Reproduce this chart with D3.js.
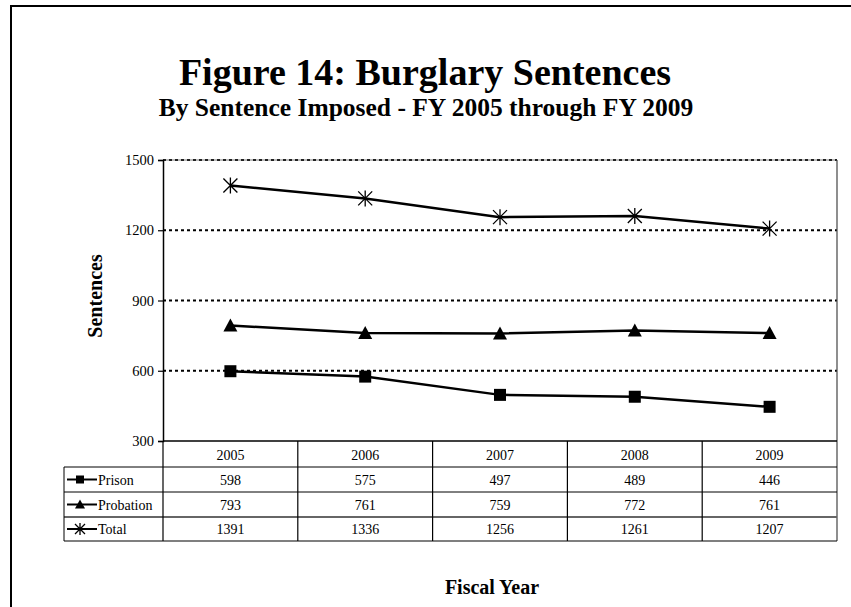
<!DOCTYPE html>
<html>
<head>
<meta charset="utf-8">
<script src="https://cdn.jsdelivr.net/npm/d3@7/dist/d3.min.js"></script>
<style>
  html, body { margin: 0; padding: 0; background: #fff; }
  svg { display: block; font-family: "Liberation Serif", "Times New Roman", serif; }
</style>
</head>
<body>
<svg id="chart" width="851" height="607"></svg>
<script>
// Fiscal years and sentence counts by type
const years = ["2005", "2006", "2007", "2008", "2009"];
const prison = [598, 575, 497, 489, 446];
const probation = [793, 761, 759, 772, 761];
const total = [1391, 1336, 1256, 1261, 1207];
const yTicks = [300, 600, 900, 1200, 1500];

const seriesList = [
  { name: "Prison", values: prison, marker: "square" },
  { name: "Probation", values: probation, marker: "triangle" },
  { name: "Total", values: total, marker: "star" }
];

const svg = d3.select("#chart");

// Outer frame
svg.append("rect")
  .attr("x", 11).attr("y", 6).attr("width", 900).attr("height", 700)
  .attr("fill", "none").attr("stroke", "#000").attr("stroke-width", 2);

// Titles
svg.append("text").attr("x", 425).attr("y", 85).attr("text-anchor", "middle")
  .attr("font-size", 38).attr("font-weight", "bold").text("Figure 14: Burglary Sentences");
svg.append("text").attr("x", 426).attr("y", 116).attr("text-anchor", "middle")
  .attr("font-size", 25.5).attr("font-weight", "bold").text("By Sentence Imposed - FY 2005 through FY 2009");

const plot = { left: 163, right: 837, top: 160, bottom: 441 };

const x = d3.scaleBand().domain(years).range([plot.left, plot.right]);
const y = d3.scaleLinear().domain([300, 1500]).range([plot.bottom, plot.top]);

// Gridlines
const grid = svg.append("g");
grid.selectAll("line.grid").data(yTicks.filter(t => t > 300)).join("line")
  .attr("x1", plot.left).attr("x2", plot.right)
  .attr("y1", d => y(d)).attr("y2", d => y(d))
  .attr("stroke", "#000").attr("stroke-width", 2).attr("stroke-dasharray", "3,3");
svg.append("line")
  .attr("x1", plot.left).attr("x2", plot.right).attr("y1", plot.top).attr("y2", plot.top)
  .attr("stroke", "#555").attr("stroke-width", 0.8);

// Y axis
const yAxis = d3.axisLeft(y).tickValues(yTicks).tickSize(5).tickPadding(4).tickFormat(d3.format("d"));
const yg = svg.append("g").attr("transform", `translate(${plot.left},0)`).call(yAxis);
yg.select(".domain").attr("stroke-width", 1.5);
yg.selectAll(".tick line").attr("stroke-width", 1.2);
yg.selectAll(".tick text").attr("font-size", 14.5).attr("font-family", "Liberation Serif, serif").attr("fill", "#000");

// Right edge of plot
svg.append("line").attr("x1", plot.right).attr("x2", plot.right)
  .attr("y1", plot.top).attr("y2", 541).attr("stroke", "#444").attr("stroke-width", 1.2);

// Y axis title
svg.append("text").attr("transform", "translate(102,296) rotate(-90)")
  .attr("text-anchor", "middle").attr("font-size", 20).attr("font-weight", "bold").text("Sentences");

// Marker shapes
function drawMarker(g, type, cx, cy, s) {
  if (type === "square") {
    g.append("rect").attr("x", cx - s / 2).attr("y", cy - s / 2).attr("width", s).attr("height", s).attr("fill", "#000");
  } else if (type === "triangle") {
    const h = s;
    g.append("path").attr("d", `M${cx},${cy - h / 2 - 1}L${cx + s / 2 + 1},${cy + h / 2}L${cx - s / 2 - 1},${cy + h / 2}Z`).attr("fill", "#000");
  } else {
    const r = s / 2 + 1;
    const p = [];
    p.push(`M${cx - r},${cy - r}L${cx + r},${cy + r}`);
    p.push(`M${cx - r},${cy + r}L${cx + r},${cy - r}`);
    p.push(`M${cx},${cy - r - 1}L${cx},${cy + r + 1}`);
    g.append("path").attr("d", p.join("")).attr("stroke", "#000").attr("stroke-width", 1.3).attr("fill", "none");
  }
}

const line = d3.line().x((d, i) => x(years[i]) + x.bandwidth() / 2).y(d => y(d));
seriesList.forEach(s => {
  const g = svg.append("g");
  g.append("path").datum(s.values).attr("d", line)
    .attr("fill", "none").attr("stroke", "#000").attr("stroke-width", 2.5);
  s.values.forEach((v, i) => drawMarker(g, s.marker, x(years[i]) + x.bandwidth() / 2, y(v), 12));
});

// X axis baseline
svg.append("line").attr("x1", plot.left).attr("x2", plot.right).attr("y1", plot.bottom).attr("y2", plot.bottom)
  .attr("stroke", "#000").attr("stroke-width", 1.5);

// Data table
const rowTop = [441, 467, 492, 517];
const rowBottom = 541;
const labelLeft = 64;
const table = svg.append("g");

// Horizontal rules
[467, 492].forEach(yy => table.append("line").attr("x1", labelLeft).attr("x2", plot.right)
  .attr("y1", yy).attr("y2", yy).attr("stroke", "#000").attr("stroke-width", 1));
table.append("line").attr("x1", labelLeft).attr("x2", plot.right).attr("y1", 517).attr("y2", 517)
  .attr("stroke", "#666").attr("stroke-width", 2);
table.append("line").attr("x1", labelLeft).attr("x2", plot.right).attr("y1", rowBottom).attr("y2", rowBottom)
  .attr("stroke", "#000").attr("stroke-width", 1.2);

// Vertical rules
years.forEach(yr => table.append("line").attr("x1", x(yr)).attr("x2", x(yr))
  .attr("y1", plot.bottom).attr("y2", rowBottom).attr("stroke", "#000").attr("stroke-width", 1.2));
table.append("line").attr("x1", labelLeft).attr("x2", labelLeft).attr("y1", 467).attr("y2", rowBottom)
  .attr("stroke", "#000").attr("stroke-width", 1);

// Header row: years
years.forEach(yr => table.append("text").attr("x", x(yr) + x.bandwidth() / 2).attr("y", 460)
  .attr("text-anchor", "middle").attr("font-size", 14).text(yr));

// Series rows
seriesList.forEach((s, r) => {
  const top = rowTop[r + 1];
  const bottom = r + 2 < rowTop.length ? rowTop[r + 2] : rowBottom;
  const cy = (top + bottom) / 2;
  table.append("line").attr("x1", 67).attr("x2", 97).attr("y1", cy).attr("y2", cy)
    .attr("stroke", "#000").attr("stroke-width", 2);
  drawMarker(table, s.marker, 80, cy, 8);
  table.append("text").attr("x", 98).attr("y", cy + 5).attr("font-size", 14).text(s.name);
  s.values.forEach((v, i) => table.append("text").attr("x", x(years[i]) + x.bandwidth() / 2)
    .attr("y", cy + 5).attr("text-anchor", "middle").attr("font-size", 14).text(v));
});

// X axis title
svg.append("text").attr("x", 492).attr("y", 594).attr("text-anchor", "middle")
  .attr("font-size", 20).attr("font-weight", "bold").text("Fiscal Year");
</script>
</body>
</html>
